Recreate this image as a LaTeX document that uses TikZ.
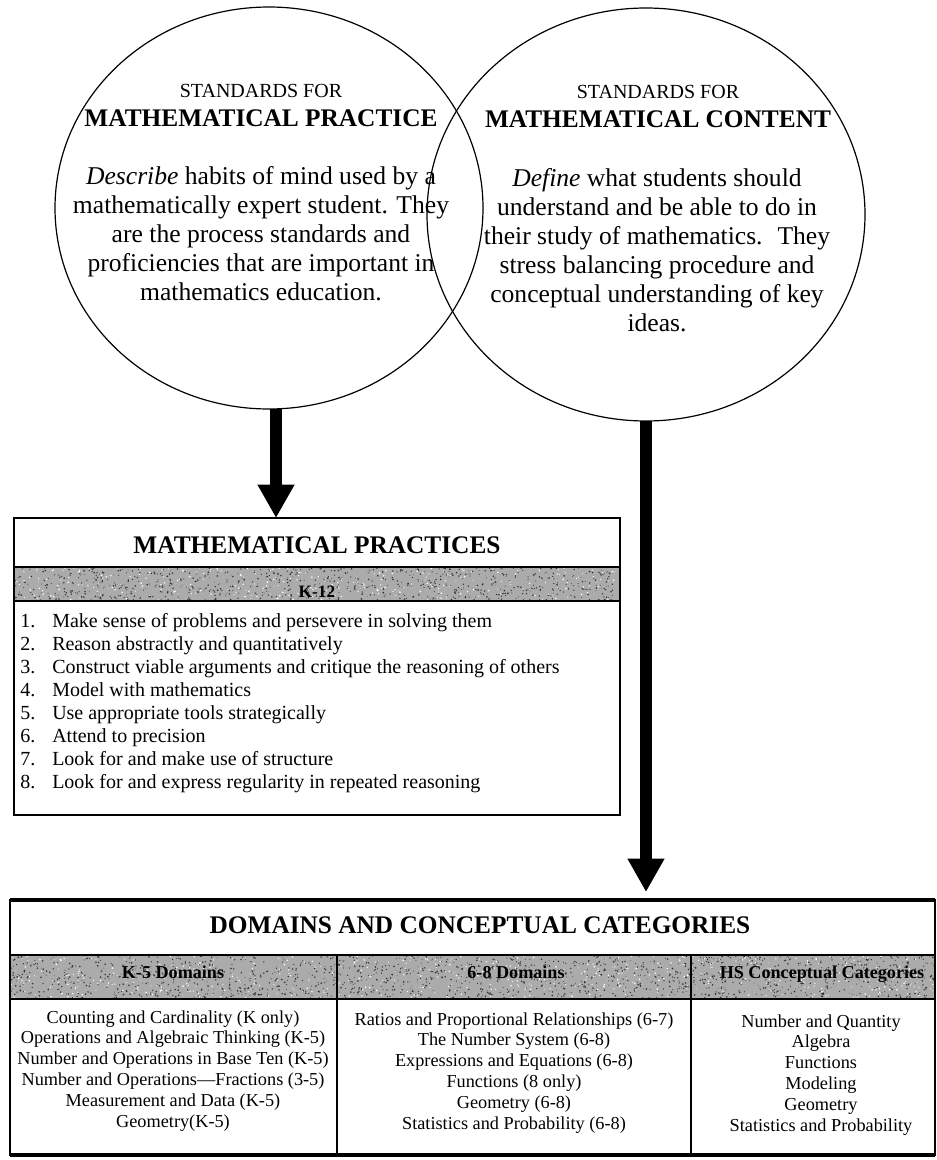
\documentclass[tikz,border=0pt]{standalone}
\usepackage{fontspec}
\setmainfont{Liberation Serif}[BoldFont={Liberation Serif Bold},ItalicFont={Liberation Serif Italic},BoldItalicFont={Liberation Serif Bold Italic}]
\usetikzlibrary{shapes.geometric,arrows.meta,calc}
\begin{document}
\begin{tikzpicture}[x=0.75pt,y=-0.75pt,
  venn/.style={ellipse,draw,line width=0.9pt,inner sep=0pt,outer sep=0pt},
  boxframe/.style={draw,line width=1.5pt,inner sep=0pt,outer sep=0pt},
  bigarrow/.style={line width=9.5pt,-{Triangle[length=25pt,width=26pt]}},
  small/.style={anchor=base,inner sep=0pt,font=\fontsize{15}{18}\selectfont},
  head/.style={anchor=base,inner sep=0pt,font=\bfseries\fontsize{19}{22}\selectfont},
  body/.style={anchor=base,inner sep=0pt,font=\fontsize{19.2}{22}\selectfont},
  itemtext/.style={anchor=base west,inner sep=0pt,font=\fontsize{15}{18}\selectfont},
  cell/.style={anchor=base,inner sep=0pt,font=\fontsize{13.7}{16}\selectfont},
  colhead/.style={anchor=base,inner sep=0pt,font=\bfseries\fontsize{13.6}{16}\selectfont},
  bandfill/.style={fill=black!33},
  speck/.style={fill=black!80},
  speckw/.style={fill=white},
  rule/.style={line width=1.2pt},
]
\useasboundingbox (0,0) rectangle (936,1160);

% ---------- Venn ellipses ----------
\node[venn,minimum width=321pt,minimum height=301.5pt] (mp) at (269,208) {};
\node[venn,minimum width=328.5pt,minimum height=309.75pt] (mc) at (646,214.5) {};

\node[small] (mpa) at (261,97) {STANDARDS FOR};
\node[head] (mpb) at (261,126) {MATHEMATICAL PRACTICE};
\foreach \t [count=\i] in {{\textit{Describe} habits of mind used by a},
  {mathematically expert student. They},
  {are the process standards and},
  {proficiencies that are important in},
  {mathematics education.}}
  \node[body] (mpl\i) at (261,{184+29*(\i-1)}) {\t};

\node[small] (mca) at (658,98) {STANDARDS FOR};
\node[head] (mcb) at (658,127) {MATHEMATICAL CONTENT};
\foreach \t [count=\i] in {{\textit{Define} what students should},
  {understand and be able to do in},
  {their study of mathematics.~ They},
  {stress balancing procedure and},
  {conceptual understanding of key},
  {ideas.}}
  \node[body] (mcl\i) at (657,{186+29*(\i-1)}) {\t};

% ---------- Mathematical practices box ----------
\node[boxframe,minimum width=454.5pt,minimum height=222.75pt] (mpbox) at (317,666.5) {};
\fill[bandfill] (15,567) rectangle (619,601);
\pgfmathsetseed{42}
\foreach \i in {1,...,800} {\fill[speck] ({15+604*rnd},{568+32*rnd}) circle ({0.3pt+0.4pt*rnd});}
\foreach \i in {1,...,300} {\fill[speckw] ({15+604*rnd},{568+32*rnd}) circle ({0.3pt+0.4pt*rnd});}
\draw[rule] (14,567) -- (620,567);
\draw[rule] (14,601) -- (620,601);
\node[head] (mpt) at (317,553) {MATHEMATICAL PRACTICES};
\node[colhead,font=\bfseries\fontsize{13}{16}\selectfont] (k12) at (317,597) {K-12};
\foreach \t [count=\i] in {{Make sense of problems and persevere in solving them},
  {Reason abstractly and quantitatively},
  {Construct viable arguments and critique the reasoning of others},
  {Model with mathematics},
  {Use appropriate tools strategically},
  {Attend to precision},
  {Look for and make use of structure},
  {Look for and express regularity in repeated reasoning}}
{
  \node[itemtext] (itn\i) at (20,{627+23.1*(\i-1)}) {\i.};
  \node[itemtext] (itt\i) at (52,{627+23.1*(\i-1)}) {\t};
}

% ---------- Domains box ----------
\node[boxframe,minimum width=693.75pt,minimum height=191.25pt] (dom) at (472.5,1027.5) {};
\draw[line width=3pt] (dom.north west) -- (dom.north east);
\draw[line width=3pt] (dom.south west) -- (dom.south east);
\fill[bandfill] (11,955) rectangle (934,999);
\foreach \i in {1,...,1600} {\fill[speck] ({11+923*rnd},{956+42*rnd}) circle ({0.3pt+0.4pt*rnd});}
\foreach \i in {1,...,600} {\fill[speckw] ({11+923*rnd},{956+42*rnd}) circle ({0.3pt+0.4pt*rnd});}
\draw[rule] (10,955) -- (935,955);
\draw[rule] (10,999) -- (935,999);
\draw[rule] (337,955) -- (337,1155);
\draw[rule] (691,955) -- (691,1155);
\node[head] (domt) at (480,933) {DOMAINS AND CONCEPTUAL CATEGORIES};
\node[colhead] (h1) at (173,978) {K-5 Domains};
\node[colhead] (h2) at (516,978) {6-8 Domains};
\node[colhead] (h3) at (822,978) {HS Conceptual Categories};

\foreach \t [count=\i] in {{Counting and Cardinality (K only)},
  {Operations and Algebraic Thinking (K-5)},
  {Number and Operations in Base Ten (K-5)},
  {Number and Operations—Fractions (3-5)},
  {Measurement and Data (K-5)},
  {Geometry(K-5)}}
  \node[cell] (ca\i) at (173,{1023+20.8*(\i-1)}) {\t};
\foreach \t [count=\i] in {{Ratios and Proportional Relationships (6-7)},
  {The Number System (6-8)},
  {Expressions and Equations (6-8)},
  {Functions (8 only)},
  {Geometry (6-8)},
  {Statistics and Probability (6-8)}}
  \node[cell] (cb\i) at (514,{1025+20.8*(\i-1)}) {\t};
\foreach \t [count=\i] in {{Number and Quantity},
  {Algebra},
  {Functions},
  {Modeling},
  {Geometry},
  {Statistics and Probability}}
  \node[cell] (cc\i) at (821,{1027+20.8*(\i-1)}) {\t};

% ---------- Arrows ----------
\draw[bigarrow] (mp.-88.6) -- (mp.-88.6 |- mpbox.north);
\draw[bigarrow,shorten >=6pt] (mc.south) -- (mc.south |- dom.north);
\end{tikzpicture}
\end{document}
